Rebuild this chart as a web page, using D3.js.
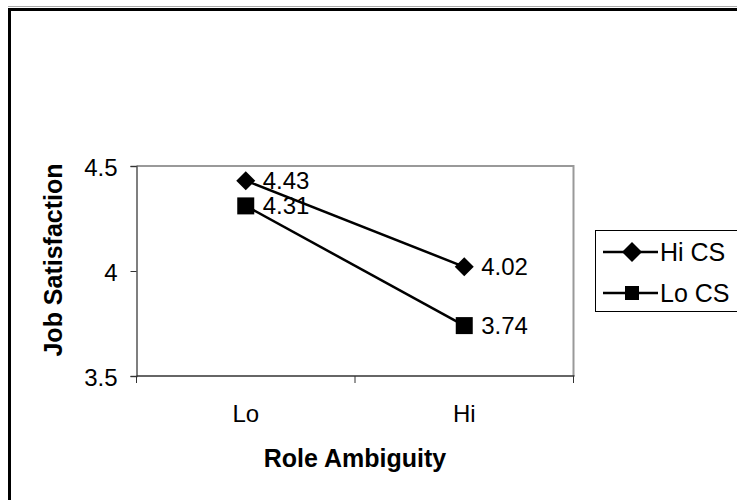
<!DOCTYPE html>
<html>
<head>
<meta charset="utf-8">
<script src="https://cdn.jsdelivr.net/npm/d3@7"></script>
<style>
  html, body { margin: 0; padding: 0; background: #fff; }
  svg { display: block; font-family: "Liberation Sans", Arial, sans-serif; }
</style>
</head>
<body>
<svg id="chart" width="737" height="500"></svg>
<script>
// Role ambiguity x coping style interaction on job satisfaction
const categories = ["Lo", "Hi"];
const seriesNames = ["Hi CS", "Lo CS"];
const hiCS = [4.43, 4.02];
const loCS = [4.31, 3.74];
const yTicks = [3.5, 4, 4.5];

const FONT = "Liberation Sans, Arial, sans-serif";
const svg = d3.select("#chart");

// outer chart frame
svg.append("line").attr("x1", 8).attr("x2", 737).attr("y1", 6.5).attr("y2", 6.5)
  .attr("stroke", "#aaa").attr("stroke-width", 1);
svg.append("path").attr("d", "M9.5,500 V9.5 H737")
  .attr("fill", "none").attr("stroke", "#000").attr("stroke-width", 3);

const plot = { left: 136.5, right: 573.5, top: 166, bottom: 376 };

const x = d3.scaleBand().domain(categories).range([plot.left, plot.right]);
const y = d3.scaleLinear().domain([3.5, 4.5]).range([plot.bottom, plot.top]);

// plot area border (top and right in grey)
svg.append("path")
  .attr("d", `M${plot.left},${plot.top} H${plot.right} V${plot.bottom}`)
  .attr("fill", "none").attr("stroke", "#999").attr("stroke-width", 2);

// y axis
const yAxis = svg.append("g")
  .attr("transform", `translate(${plot.left},0)`)
  .call(d3.axisLeft(y).tickValues(yTicks).tickSize(6).tickPadding(13)
    .tickFormat(d3.format("")));
yAxis.select(".domain").attr("stroke", "#555").attr("stroke-width", 1.5);
yAxis.selectAll(".tick line").attr("stroke", "#333");
yAxis.selectAll("text").attr("font-size", 24).attr("fill", "#000")
  .attr("font-family", FONT).attr("dy", 9);

// x axis with ticks at band boundaries
const xBoundaries = [plot.left, plot.left + x.bandwidth(), plot.right];
svg.append("line").attr("x1", plot.left).attr("x2", plot.right + 1)
  .attr("y1", plot.bottom).attr("y2", plot.bottom)
  .attr("stroke", "#333").attr("stroke-width", 1.5);
svg.selectAll(".xtick").data(xBoundaries).enter().append("line")
  .attr("x1", d => d).attr("x2", d => d)
  .attr("y1", plot.bottom).attr("y2", plot.bottom + 7)
  .attr("stroke", "#333");
svg.selectAll(".xlabel").data(categories).enter().append("text")
  .attr("x", d => x(d) + x.bandwidth() / 2)
  .attr("y", 422)
  .attr("text-anchor", "middle")
  .attr("font-size", 24)
  .text(d => d);

// axis titles
svg.append("text").attr("x", 355).attr("y", 467).attr("text-anchor", "middle")
  .attr("font-size", 25).attr("font-weight", "bold").text("Role Ambiguity");
svg.append("text")
  .attr("transform", `translate(62,260) rotate(-90)`)
  .attr("text-anchor", "middle").attr("font-size", 25).attr("font-weight", "bold")
  .text("Job Satisfaction");

// marker shapes
const diamond = r => `M0,${-r}L${r},0L0,${r}L${-r},0Z`;
const square = s => `M${-s / 2},${-s / 2}h${s}v${s}h${-s}Z`;

const cx = d => x(d) + x.bandwidth() / 2;
const series = [
  { name: seriesNames[0], values: hiCS, shape: diamond(9.5), legendShape: diamond(10) },
  { name: seriesNames[1], values: loCS, shape: square(17), legendShape: square(14) }
];
const line = d3.line().x((d, i) => cx(categories[i])).y(d => y(d));

series.forEach(s => {
  svg.append("path").attr("d", line(s.values))
    .attr("fill", "none").attr("stroke", "#000").attr("stroke-width", 2.5);
  svg.selectAll(null).data(s.values).enter().append("path")
    .attr("d", s.shape)
    .attr("transform", (d, i) => `translate(${cx(categories[i])},${y(d)})`)
    .attr("fill", "#000");
  svg.selectAll(null).data(s.values).enter().append("text")
    .attr("x", (d, i) => cx(categories[i]) + 17)
    .attr("y", d => y(d) + 8.5)
    .attr("font-size", 24)
    .text(d => d.toFixed(2));
});

// legend
const legend = svg.append("g");
legend.append("rect").attr("x", 595.5).attr("y", 230.5).attr("width", 142).attr("height", 81)
  .attr("fill", "#fff").attr("stroke", "#000").attr("stroke-width", 1);
series.forEach((s, i) => {
  const ly = 252 + i * 41;
  legend.append("line").attr("x1", 603).attr("x2", 658).attr("y1", ly).attr("y2", ly)
    .attr("stroke", "#000").attr("stroke-width", 2.5);
  legend.append("path").attr("d", s.legendShape)
    .attr("transform", `translate(632,${ly})`).attr("fill", "#000");
  legend.append("text").attr("x", 660).attr("y", ly + 8.5).attr("font-size", 25).text(s.name);
});
</script>
</body>
</html>
